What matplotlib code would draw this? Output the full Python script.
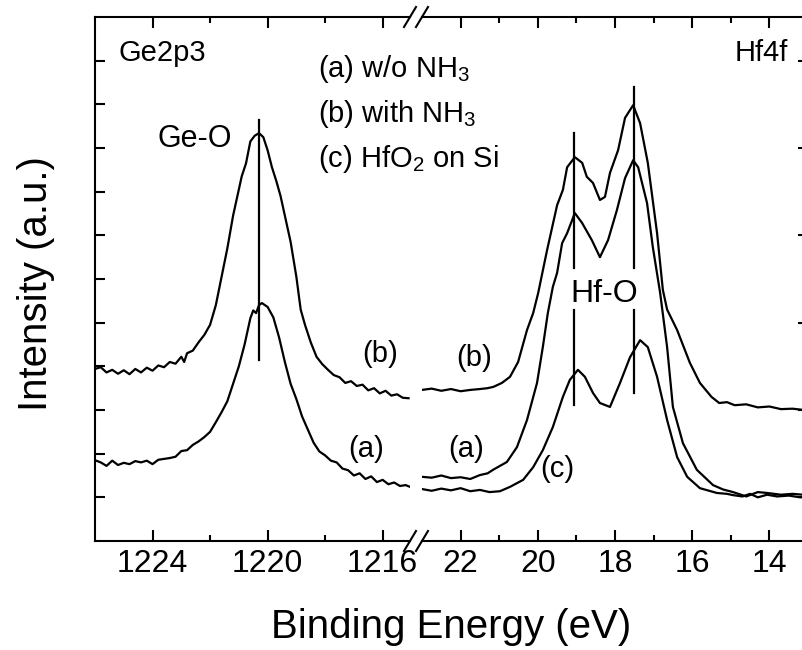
import matplotlib
matplotlib.use('Agg')
import matplotlib.pyplot as plt

plt.rcParams['font.family'] = ['Liberation Sans', 'DejaVu Sans']
plt.rcParams['mathtext.fontset'] = 'custom'
plt.rcParams['mathtext.rm'] = 'Liberation Sans'
plt.rcParams['mathtext.it'] = 'Liberation Sans:italic'

# Ge2p3 region (left panel)
ge_x_b = [1226.0, 1225.8, 1225.6, 1225.4, 1225.2, 1225.0, 1224.8, 1224.6, 1224.4, 1224.2,
          1224.0, 1223.8, 1223.6, 1223.4, 1223.2, 1223.0, 1222.9, 1222.8, 1222.6, 1222.4,
          1222.2, 1222.0, 1221.8, 1221.6, 1221.4, 1221.2, 1221.0, 1220.9, 1220.75, 1220.6,
          1220.45, 1220.3, 1220.15, 1220.0, 1219.85, 1219.7, 1219.55, 1219.4, 1219.2, 1219.0,
          1218.85, 1218.7, 1218.5, 1218.3, 1218.1, 1217.9, 1217.7, 1217.5, 1217.3, 1217.1,
          1216.9, 1216.7, 1216.5, 1216.3, 1216.1, 1215.9, 1215.7, 1215.5, 1215.3, 1215.1]
ge_y_b = [3.94, 3.98, 3.86, 3.92, 3.83, 3.91, 3.82, 3.94, 3.86, 3.97,
          3.90, 4.02, 3.98, 4.10, 4.06, 4.22, 4.10, 4.30, 4.36, 4.55,
          4.72, 4.95, 5.40, 6.05, 6.70, 7.45, 8.05, 8.35, 8.65, 9.15,
          9.28, 9.34, 9.25, 8.95, 8.56, 8.25, 7.90, 7.45, 6.85, 6.05,
          5.30, 4.95, 4.55, 4.22, 4.05, 3.92, 3.80, 3.75, 3.62, 3.66,
          3.55, 3.58, 3.45, 3.50, 3.38, 3.44, 3.33, 3.36, 3.28, 3.27]

ge_x_a = [1226.0, 1225.8, 1225.6, 1225.4, 1225.2, 1225.0, 1224.8, 1224.6, 1224.4, 1224.2,
          1224.0, 1223.8, 1223.6, 1223.4, 1223.2, 1223.0, 1222.8, 1222.6, 1222.4, 1222.2,
          1222.0, 1221.8, 1221.6, 1221.4, 1221.2, 1221.0, 1220.8, 1220.6, 1220.5, 1220.4,
          1220.3, 1220.2, 1220.0, 1219.8, 1219.6, 1219.4, 1219.2, 1219.0, 1218.8, 1218.6,
          1218.4, 1218.2, 1218.0, 1217.8, 1217.6, 1217.4, 1217.2, 1217.0, 1216.8, 1216.6,
          1216.4, 1216.2, 1216.0, 1215.8, 1215.6, 1215.4, 1215.2, 1215.05]
ge_y_a = [1.85, 1.80, 1.72, 1.84, 1.74, 1.79, 1.76, 1.83, 1.80, 1.84,
          1.76, 1.86, 1.88, 1.90, 1.93, 2.06, 2.08, 2.20, 2.28, 2.38,
          2.50, 2.72, 2.95, 3.20, 3.60, 4.00, 4.50, 5.10, 5.28, 5.22,
          5.40, 5.45, 5.36, 5.12, 4.66, 4.10, 3.60, 3.25, 2.85, 2.55,
          2.25, 2.05, 1.96, 1.84, 1.80, 1.66, 1.62, 1.50, 1.55, 1.42,
          1.48, 1.35, 1.40, 1.30, 1.34, 1.26, 1.28, 1.24]

# Hf4f region (right panel)
hf_x_b = [23.0, 22.75, 22.5, 22.25, 22.0, 21.75, 21.5, 21.3, 21.15, 20.93, 20.72, 20.51,
          20.28, 20.12, 19.99, 19.76, 19.5, 19.35, 19.24, 19.04, 18.85, 18.73, 18.57,
          18.39, 18.26, 18.13, 17.92, 17.74, 17.53, 17.35, 17.15, 16.91, 16.76, 16.65,
          16.39, 16.06, 15.8, 15.5, 15.3, 15.1, 14.9, 14.6, 14.3, 14.0, 13.7, 13.4, 13.0]
hf_y_b = [3.46, 3.49, 3.44, 3.48, 3.43, 3.46, 3.48, 3.50, 3.53, 3.62, 3.76, 4.10,
          4.83, 5.22, 5.68, 6.66, 7.69, 8.04, 8.56, 8.79, 8.66, 8.34, 8.20,
          7.81, 7.88, 8.43, 8.95, 9.69, 9.98, 9.57, 8.66, 7.05, 5.75, 5.30,
          4.83, 4.08, 3.62, 3.30, 3.16, 3.18, 3.11, 3.13, 3.06, 3.08, 3.02, 3.03, 2.99]

hf_x_a = [23.0, 22.75, 22.5, 22.25, 22.0, 21.75, 21.5, 21.3, 21.16, 20.8, 20.54, 20.28,
          20.02, 19.87, 19.74, 19.61, 19.5, 19.37, 19.24, 19.04, 18.85, 18.6, 18.39,
          18.18, 17.95, 17.74, 17.53, 17.4, 17.17, 17.02, 16.83, 16.65, 16.5, 16.24,
          15.88, 15.46, 15.2, 14.94, 14.6, 14.3, 14.06, 13.7, 13.4, 13.0]
hf_y_a = [1.47, 1.45, 1.50, 1.44, 1.46, 1.42, 1.51, 1.55, 1.63, 1.81, 2.15, 2.77,
          3.62, 4.44, 5.22, 5.82, 6.14, 6.82, 7.05, 7.51, 7.28, 6.89, 6.50,
          6.89, 7.58, 8.31, 8.72, 8.56, 7.74, 6.73, 5.68, 4.44, 3.07, 2.24,
          1.63, 1.28, 1.18, 1.12, 1.02, 1.12, 1.10, 1.06, 1.08, 1.05]

hf_x_c = [23.0, 22.75, 22.5, 22.25, 22.0, 21.75, 21.5, 21.25, 20.98, 20.72, 20.38, 20.12,
          19.87, 19.61, 19.35, 19.17, 18.96, 18.78, 18.57, 18.39, 18.13, 17.87, 17.61,
          17.35, 17.15, 16.91, 16.65, 16.39, 16.13, 15.8, 15.36, 15.1, 14.94, 14.7,
          14.5, 14.3, 14.06, 13.8, 13.5, 13.2, 13.0]
hf_y_c = [1.19, 1.15, 1.20, 1.16, 1.21, 1.14, 1.17, 1.12, 1.14, 1.24, 1.40, 1.69,
          2.08, 2.61, 3.30, 3.69, 3.92, 3.76, 3.39, 3.16, 3.07, 3.62, 4.21,
          4.60, 4.44, 3.76, 2.77, 1.92, 1.47, 1.21, 1.10, 1.08, 1.05, 1.02,
          1.08, 1.00, 1.06, 1.02, 1.04, 1.00, 1.01]

# peak marker positions
ge_peak = 1220.3
hf_peaks = [19.06, 17.51]

fig = plt.figure(figsize=(8.02, 6.5), dpi=100)
ax1 = fig.add_axes([0.11845, 0.16769, 0.39277, 0.80615])
ax2 = fig.add_axes([0.52618, 0.16769, 0.48130, 0.80615])
ax1.patch.set_visible(False)
ax2.patch.set_visible(False)

ax1.plot(ge_x_b, ge_y_b, color='k', lw=1.6)
ax1.plot(ge_x_a, ge_y_a, color='k', lw=1.6)
ax1.plot([ge_peak, ge_peak], [9.64, 4.14], color='k', lw=1.6)

ax2.plot(hf_x_b, hf_y_b, color='k', lw=1.6)
ax2.plot(hf_x_a, hf_y_a, color='k', lw=1.6)
ax2.plot(hf_x_c, hf_y_c, color='k', lw=1.6)
ax2.plot([hf_peaks[0], hf_peaks[0]], [9.34, 6.25], color='k', lw=1.6)
ax2.plot([hf_peaks[1], hf_peaks[1]], [10.40, 6.25], color='k', lw=1.6)
ax2.plot([hf_peaks[0], hf_peaks[0]], [5.29, 3.11], color='k', lw=1.6)
ax2.plot([hf_peaks[1], hf_peaks[1]], [5.29, 3.39], color='k', lw=1.6)

ax1.set_xlim(1226, 1215.05)
ax2.set_xlim(23, 13)
ax1.set_ylim(0, 12)
ax2.set_ylim(0, 12)

ax1.set_xticks([1224, 1220, 1216])
ax1.set_xticks([1222, 1218], minor=True)
ax2.set_xticks([22, 20, 18, 16, 14])
ax2.set_xticks([21, 19, 17, 15], minor=True)
ax1.set_yticks(range(1, 12))
ax1.set_yticklabels([])
ax2.set_yticks([1, 3, 5, 7, 9, 11])
ax2.set_yticklabels([])

for ax in (ax1, ax2):
    for s in ax.spines.values():
        s.set_linewidth(1.5)
    ax.tick_params(axis='x', which='major', direction='in', top=True, length=8, width=1.5,
                   labelsize=23, pad=6)
    ax.tick_params(axis='x', which='minor', direction='in', top=True, length=4.5, width=1.5)
    ax.tick_params(axis='y', which='both', direction='in', length=7, width=1.5)
ax1.spines['right'].set_visible(False)
ax2.spines['left'].set_visible(False)
ax1.tick_params(axis='y', left=True, right=False)
ax2.tick_params(axis='y', left=False, right=True, labelleft=False)

# break marks
d1, e1 = 6 / 315, 10 / 524
d2 = 6 / 386
for yy in (0, 1):
    ax1.plot([1 - d1, 1 + d1], [yy - e1, yy + e1], transform=ax1.transAxes,
             color='k', lw=1.5, clip_on=False)
    ax2.plot([-d2, d2], [yy - e1, yy + e1], transform=ax2.transAxes,
             color='k', lw=1.5, clip_on=False)

# labels
ax1.text(1225.2, 11.0, 'Ge2p3', fontsize=21, ha='left', va='baseline')
ax2.text(13.52, 11.0, 'Hf4f', fontsize=21, ha='right', va='baseline')
ax1.text(1222.53, 9.02, 'Ge-O', fontsize=22, ha='center', va='baseline')
ax2.text(18.28, 5.47, 'Hf-O', fontsize=23, ha='center', va='baseline')
ax1.text(1218.26, 10.62, '(a) w/o NH$_3$', fontsize=21, ha='left', va='baseline')
ax1.text(1218.26, 9.59, '(b) with NH$_3$', fontsize=21, ha='left', va='baseline')
ax1.text(1218.26, 8.56, '(c) HfO$_2$ on Si', fontsize=21, ha='left', va='baseline')
ax1.text(1216.1, 4.10, '(b)', fontsize=21, ha='center', va='baseline')
ax1.text(1216.56, 1.92, '(a)', fontsize=21, ha='center', va='baseline')
ax2.text(21.65, 4.01, '(b)', fontsize=21, ha='center', va='baseline')
ax2.text(21.86, 1.92, '(a)', fontsize=21, ha='center', va='baseline')
ax2.text(19.50, 1.47, '(c)', fontsize=21, ha='center', va='baseline')

fig.text(451 / 802, 12 / 650, 'Binding Energy (eV)', fontsize=29, ha='center', va='baseline')
fig.text(36 / 802, 1 - 284 / 650, 'Intensity (a.u.)', fontsize=29, rotation=90,
         ha='center', va='center')

plt.savefig('out.png', dpi=100)
